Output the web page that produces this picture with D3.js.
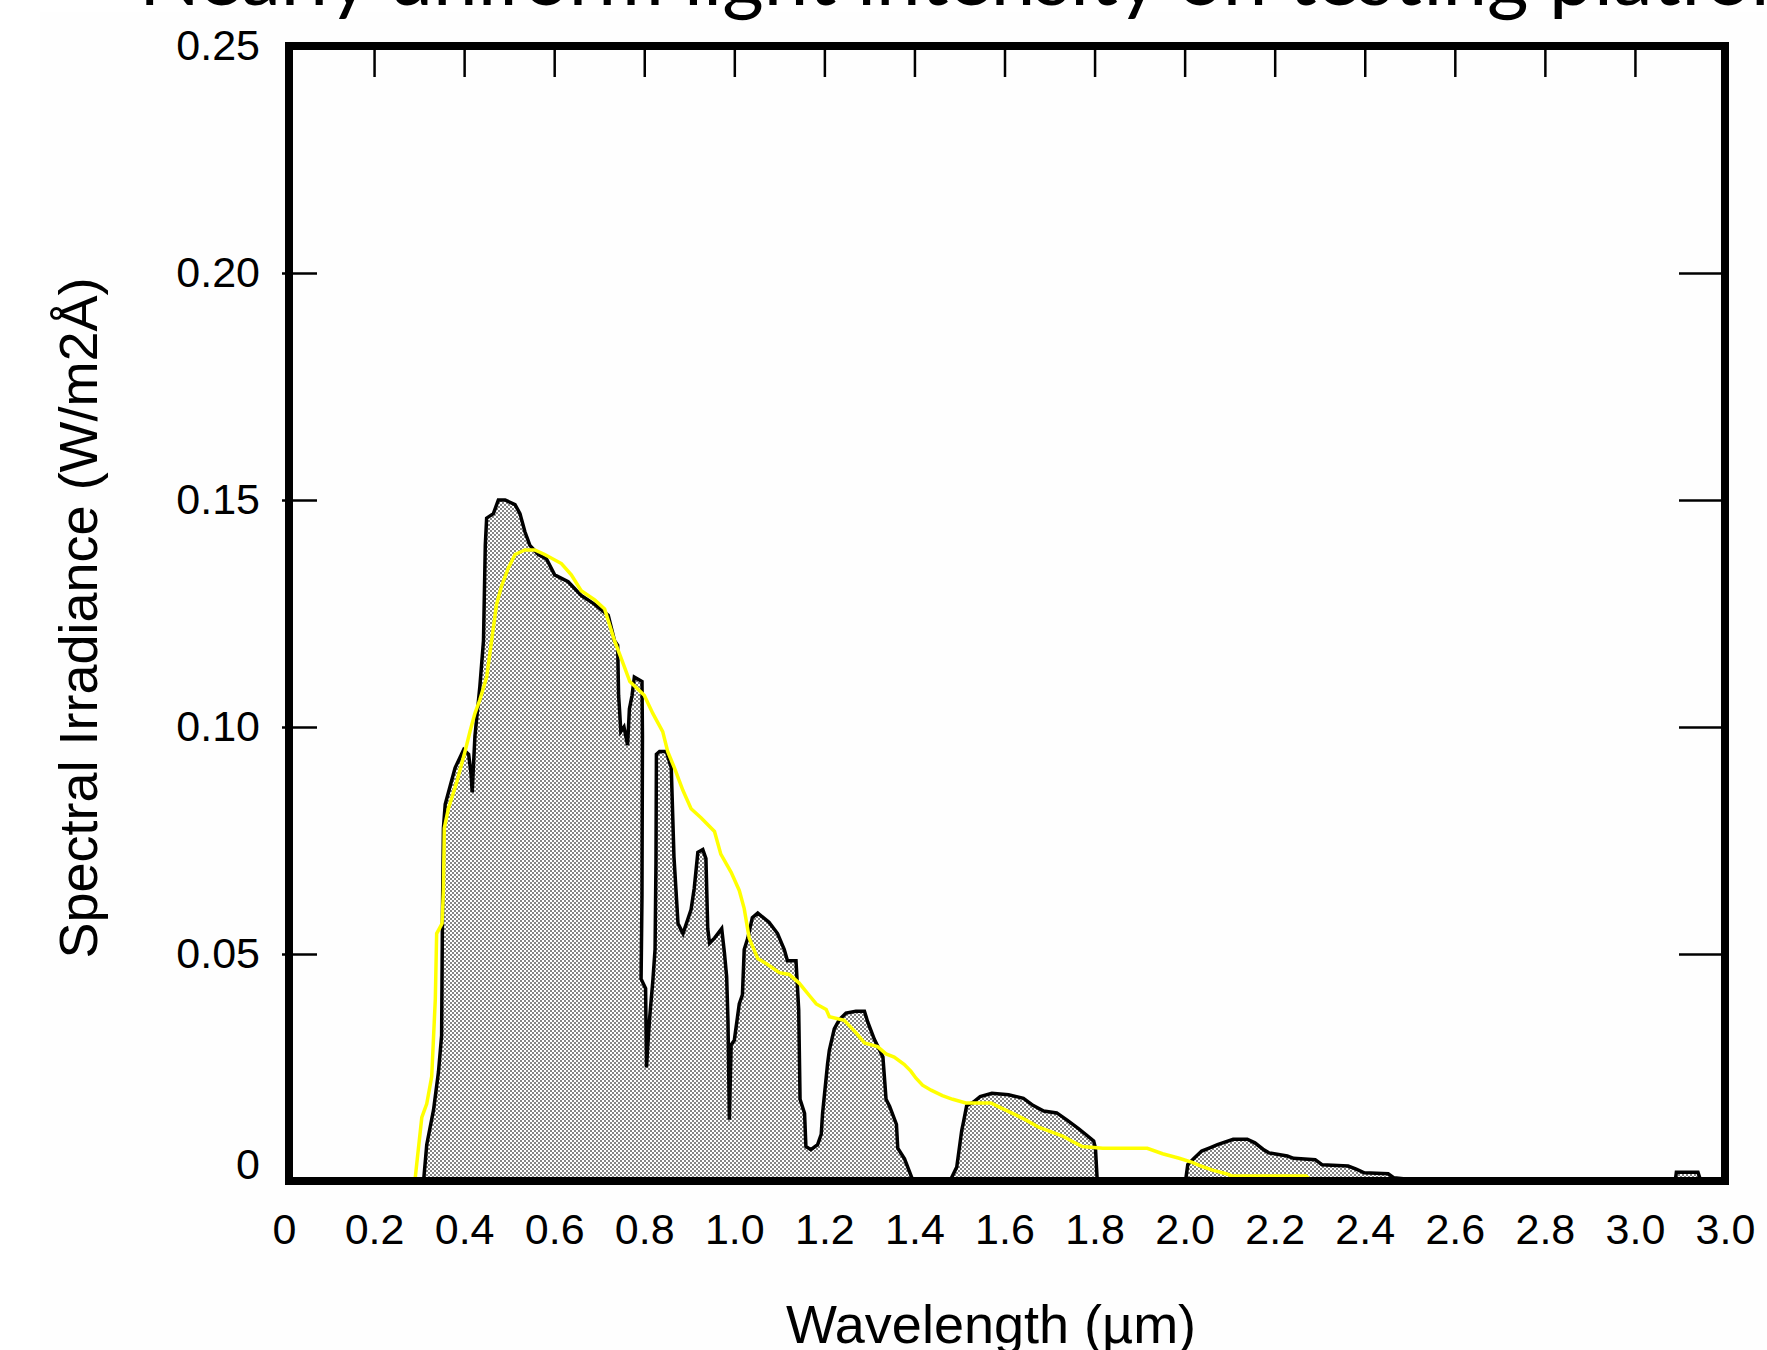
<!DOCTYPE html>
<meta charset="utf-8">
<style>
body { margin: 0; background: #fff; }
svg { display: block; }
.lbl text { font: 43px "Liberation Sans", Arial, sans-serif; fill: #000; }
.axis-title { font: 54px "Liberation Sans", Arial, sans-serif; fill: #000; }
.title { font-family: Lato, "Open Sans", sans-serif; fill: #000; }
</style>
<svg width="1767" height="1350"></svg>
<script src="https://d3js.org/d3.v7.min.js"></script>
<script>
// measured spectrum at ground level (grey area), wavelength in µm, W/m2Å
var specWl = [0.29, 0.31, 0.317, 0.332, 0.343, 0.350, 0.352, 0.354, 0.358, 0.369, 0.380, 0.399, 0.410, 0.415, 0.418, 0.421, 0.424, 0.435, 0.443, 0.447, 0.450, 0.465, 0.476, 0.491, 0.513, 0.524, 0.535, 0.546, 0.565, 0.583, 0.601, 0.631, 0.660, 0.690, 0.720, 0.734, 0.741, 0.743, 0.745, 0.748, 0.755, 0.763, 0.767, 0.773, 0.778, 0.795, 0.796, 0.795, 0.793, 0.803, 0.805, 0.808, 0.812, 0.819, 0.824, 0.826, 0.827, 0.834, 0.849, 0.860, 0.866, 0.875, 0.886, 0.904, 0.911, 0.919, 0.930, 0.937, 0.941, 0.945, 0.956, 0.972, 0.978, 0.983, 0.986, 0.989, 0.993, 1.000, 1.011, 1.018, 1.022, 1.030, 1.040, 1.052, 1.077, 1.096, 1.111, 1.118, 1.137, 1.143, 1.146, 1.156, 1.159, 1.170, 1.185, 1.193, 1.196, 1.207, 1.211, 1.222, 1.233, 1.248, 1.270, 1.289, 1.296, 1.311, 1.330, 1.337, 1.345, 1.360, 1.363, 1.378, 1.393, 1.397, 1.479, 1.494, 1.505, 1.509, 1.516, 1.531, 1.546, 1.572, 1.609, 1.642, 1.664, 1.687, 1.716, 1.739, 1.765, 1.780, 1.798, 1.802, 1.806, 1.998, 2.003, 2.007, 2.021, 2.038, 2.056, 2.073, 2.108, 2.139, 2.156, 2.174, 2.187, 2.228, 2.242, 2.290, 2.305, 2.363, 2.381, 2.399, 2.452, 2.465, 2.495, 2.500, 2.590, 2.595, 2.680, 2.685, 2.870, 2.875, 3.090, 3.092, 3.140, 3.145, 3.200];
var specVal = [0, 0, 0.008, 0.0156, 0.024, 0.032, 0.060, 0.0777, 0.083, 0.087, 0.091, 0.095, 0.094, 0.090, 0.0856, 0.092, 0.098, 0.109, 0.119, 0.140, 0.146, 0.147, 0.150, 0.150, 0.149, 0.147, 0.143, 0.140, 0.138, 0.137, 0.1335, 0.132, 0.129, 0.127, 0.1246, 0.119, 0.118, 0.107, 0.104, 0.099, 0.100, 0.096, 0.104, 0.107, 0.111, 0.110, 0.098, 0.063, 0.0445, 0.0424, 0.025, 0.030, 0.036, 0.044, 0.051, 0.070, 0.094, 0.0946, 0.0946, 0.091, 0.0714, 0.0567, 0.0545, 0.0598, 0.0645, 0.0724, 0.073, 0.071, 0.0556, 0.0524, 0.0535, 0.0556, 0.0503, 0.045, 0.035, 0.0135, 0.030, 0.031, 0.039, 0.041, 0.051, 0.0535, 0.058, 0.059, 0.057, 0.0545, 0.051, 0.0485, 0.0485, 0.0377, 0.018, 0.0149, 0.0076, 0.0069, 0.008, 0.0103, 0.0149, 0.0257, 0.0288, 0.0335, 0.0355, 0.037, 0.0374, 0.0374, 0.0351, 0.0312, 0.0273, 0.018, 0.0164, 0.0125, 0.0072, 0.0049, 0.001, 0, 0, 0.0031, 0.0111, 0.013, 0.0166, 0.0174, 0.0186, 0.0193, 0.019, 0.0182, 0.0166, 0.0154, 0.015, 0.0134, 0.0115, 0.0103, 0.0088, 0.0072, 0, 0, 0.0007, 0.0036, 0.005, 0.0066, 0.0073, 0.008, 0.0092, 0.0092, 0.0084, 0.007, 0.0062, 0.0055, 0.005, 0.0047, 0.0036, 0.0033, 0.0026, 0.0018, 0.0016, 0.0007, 0.0004, 0, 0, 0.0004, 0.0004, 0, 0, 0.0004, 0.0004, 0.0019, 0.0019, 0.0004, 0.0004];

// lamp spectrum on the platform (yellow line)
var lampWl = [0.285, 0.291, 0.295, 0.306, 0.317, 0.328, 0.336, 0.339, 0.351, 0.354, 0.356, 0.365, 0.384, 0.402, 0.413, 0.424, 0.435, 0.450, 0.461, 0.472, 0.483, 0.498, 0.513, 0.535, 0.557, 0.579, 0.616, 0.638, 0.660, 0.690, 0.712, 0.734, 0.753, 0.768, 0.800, 0.819, 0.841, 0.852, 0.867, 0.886, 0.904, 0.926, 0.956, 0.970, 0.993, 1.011, 1.022, 1.033, 1.052, 1.074, 1.100, 1.122, 1.144, 1.167, 1.182, 1.204, 1.211, 1.244, 1.270, 1.289, 1.318, 1.337, 1.355, 1.377, 1.392, 1.403, 1.418, 1.437, 1.462, 1.485, 1.514, 1.570, 1.592, 1.618, 1.648, 1.677, 1.707, 1.729, 1.751, 1.773, 1.818, 1.917, 1.951, 1.988, 2.017, 2.036, 2.062, 2.092, 2.105, 2.270, 2.279, 2.366];
var lampVal = [0, 0.0003, 0.004, 0.014, 0.017, 0.023, 0.040, 0.0545, 0.0567, 0.064, 0.0777, 0.082, 0.088, 0.0946, 0.099, 0.103, 0.106, 0.111, 0.119, 0.127, 0.131, 0.135, 0.138, 0.139, 0.139, 0.138, 0.136, 0.1335, 0.130, 0.128, 0.126, 0.119, 0.114, 0.110, 0.107, 0.103, 0.099, 0.0946, 0.091, 0.086, 0.082, 0.080, 0.077, 0.072, 0.068, 0.064, 0.060, 0.0535, 0.049, 0.0477, 0.0459, 0.0455, 0.0436, 0.0408, 0.039, 0.0378, 0.0362, 0.0354, 0.0327, 0.0304, 0.0296, 0.028, 0.0273, 0.0257, 0.0242, 0.0227, 0.0211, 0.020, 0.0188, 0.018, 0.0172, 0.0172, 0.0161, 0.0149, 0.0134, 0.0118, 0.0107, 0.0099, 0.0087, 0.0076, 0.0072, 0.0072, 0.006, 0.005, 0.0041, 0.0033, 0.0024, 0.0016, 0.0011, 0.0011, 0.0003, 0.0003];

var xTickValues = [0, 0.2, 0.4, 0.6, 0.8, 1.0, 1.2, 1.4, 1.6, 1.8, 2.0, 2.2, 2.4, 2.6, 2.8, 3.0, 3.2];
var xTickLabels = ["0", "0.2", "0.4", "0.6", "0.8", "1.0", "1.2", "1.4", "1.6", "1.8", "2.0", "2.2", "2.4", "2.6", "2.8", "3.0", "3.0"];
var yTickValues = [0, 0.05, 0.10, 0.15, 0.20, 0.25];
var yTickLabels = ["0", "0.05", "0.10", "0.15", "0.20", "0.25"];

var svg = d3.select("svg");

var x = d3.scaleLinear().domain([0, 3.2]).range([284, 1725]);
var y = d3.scaleLinear().domain([0, 0.25]).range([1181, 46]);

// faint off-white backdrop of the scanned slide
svg.append("rect").attr("x", 40).attr("y", 12).attr("width", 1727).attr("height", 1338).attr("fill", "#fefefe");

// title, mostly cut off at the top of the picture
var title = svg.append("text").attr("class", "title")
    .attr("x", 139).attr("y", 5)
    .style("font-size", "60px")
    .text("Nearly uniform light intensity on testing");
var len = title.node().getComputedTextLength();
title.style("font-size", (60 * 1390 / len) + "px")
    .text("Nearly uniform light intensity on testing platform");

var defs = svg.append("defs");
var pat = defs.append("pattern").attr("id", "dots")
    .attr("width", 4).attr("height", 4).attr("patternUnits", "userSpaceOnUse");
pat.append("rect").attr("width", 4).attr("height", 4).attr("fill", "#fff");
pat.append("rect").attr("width", 2).attr("height", 2).attr("fill", "#858585");
pat.append("rect").attr("x", 2).attr("y", 2).attr("width", 2).attr("height", 2).attr("fill", "#858585");

var spec = specWl.map(function(d, i) { return [d, specVal[i]]; });
var lamp = lampWl.map(function(d, i) { return [d, lampVal[i]]; });

var area = d3.area()
    .x(function(d) { return x(d[0]); })
    .y0(y(0))
    .y1(function(d) { return y(d[1]); });
var line = d3.line()
    .x(function(d) { return x(d[0]); })
    .y(function(d) { return y(d[1]); });

defs.append("clipPath").attr("id", "specClip")
  .append("path").attr("d", area(spec));

svg.append("path").attr("d", area(spec)).attr("fill", "url(#dots)");

// bottom ticks only show through the grey area
svg.append("g")
    .attr("transform", "translate(0," + y(0) + ")")
    .attr("clip-path", "url(#specClip)")
    .call(d3.axisTop(x).tickValues(xTickValues.slice(1, -1)).tickSize(33).tickFormat(""))
    .call(function(g) { g.select(".domain").remove(); })
    .selectAll("line").attr("stroke-width", 3);

svg.append("path").attr("d", line(spec))
    .attr("fill", "none").attr("stroke", "#000").attr("stroke-width", 3.5)
    .attr("stroke-linejoin", "miter");

svg.append("path").attr("d", line(lamp))
    .attr("fill", "none").attr("stroke", "#ffff00").attr("stroke-width", 3.5);

// frame
svg.append("rect")
    .attr("x", x(0) + 5).attr("y", y(0.25))
    .attr("width", x(3.2) - x(0) - 5).attr("height", y(0) - y(0.25))
    .attr("fill", "none").attr("stroke", "#000").attr("stroke-width", 8);

// top ticks
svg.append("g")
    .attr("transform", "translate(0," + y(0.25) + ")")
    .call(d3.axisTop(x).tickValues(xTickValues.slice(1, -1)).tickSize(-31).tickFormat(""))
    .call(function(g) { g.select(".domain").remove(); })
    .selectAll("line").attr("stroke-width", 2.5);

// left ticks crossing the frame, right ticks inside
svg.append("g")
    .attr("transform", "translate(282,0)")
    .call(d3.axisRight(y).tickValues(yTickValues.slice(1, -1)).tickSize(35).tickFormat(""))
    .call(function(g) { g.select(".domain").remove(); })
    .selectAll("line").attr("stroke-width", 2.5);
svg.append("g")
    .attr("transform", "translate(1721,0)")
    .call(d3.axisLeft(y).tickValues(yTickValues.slice(1, -1)).tickSize(42).tickFormat(""))
    .call(function(g) { g.select(".domain").remove(); })
    .selectAll("line").attr("stroke-width", 2.5);

// tick labels
var yl = svg.append("g").attr("class", "lbl")
    .attr("transform", "translate(289,0)")
    .call(d3.axisLeft(y).tickValues(yTickValues).tickSize(0).tickPadding(29)
        .tickFormat(function(d, i) { return yTickLabels[i]; }));
yl.select(".domain").remove();
yl.selectAll("text").attr("font-family", null).attr("font-size", null)
    .attr("dy", function(d) { return d === 0 ? "-0.05em" : "0.32em"; });

var xl = svg.append("g").attr("class", "lbl")
    .attr("transform", "translate(0," + y(0) + ")")
    .call(d3.axisBottom(x).tickValues(xTickValues).tickSize(0).tickPadding(32)
        .tickFormat(function(d, i) { return xTickLabels[i]; }));
xl.select(".domain").remove();
xl.selectAll("text").attr("font-family", null).attr("font-size", null);

// axis titles
svg.append("text").attr("class", "axis-title")
    .attr("x", 991).attr("y", 1343)
    .attr("text-anchor", "middle")
    .text("Wavelength (µm)");

svg.append("text").attr("class", "axis-title")
    .attr("transform", "translate(97,618) rotate(-90)")
    .attr("text-anchor", "middle")
    .text("Spectral Irradiance (W/m2Å)");
</script>
